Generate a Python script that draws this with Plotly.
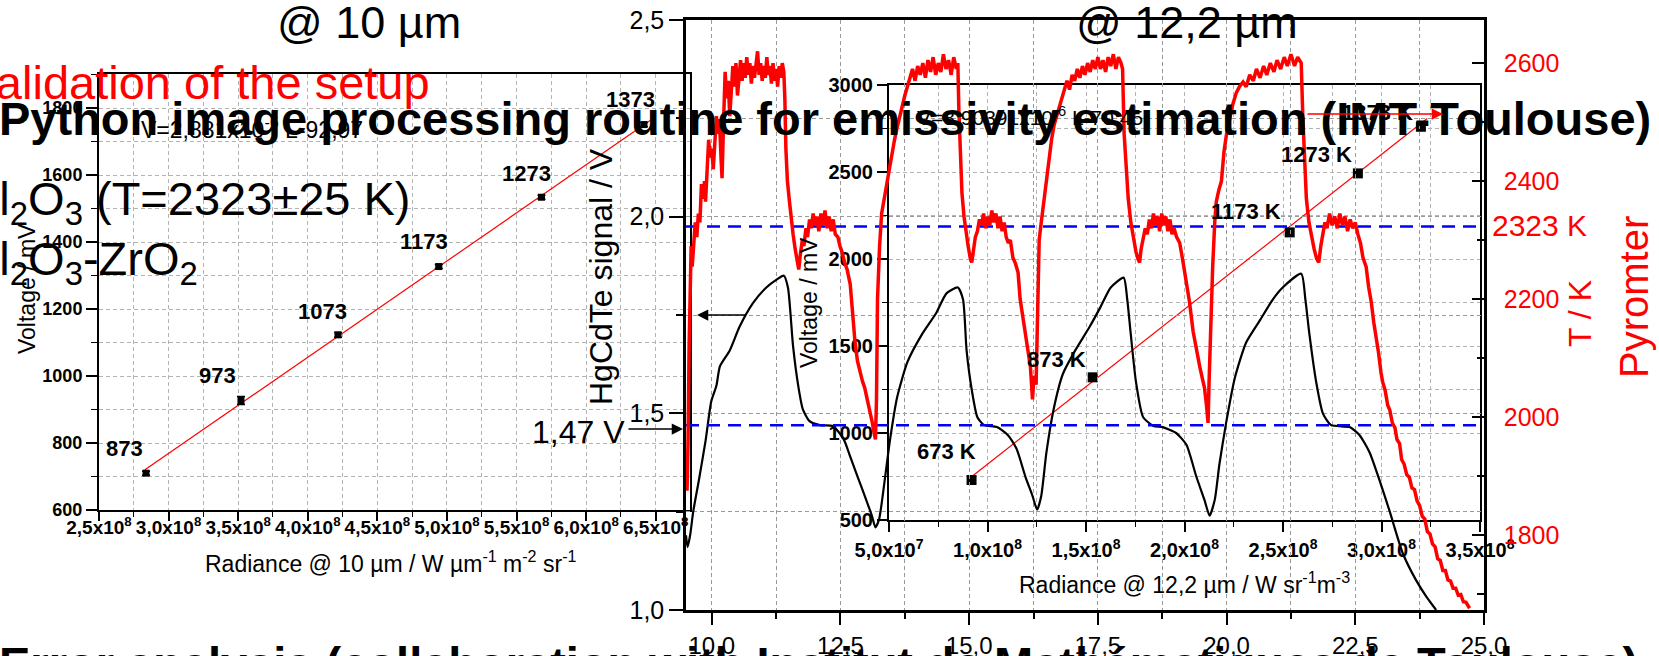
import plotly.graph_objects as go

W, H = 1659, 656
FONT = "Liberation Sans, Arial, sans-serif"

# ---------------- Left inset : calibration @ 10 µm ----------------
cal10_labels = ["873", "973", "1073", "1173", "1273", "1373"]
cal10_radiance = [2.838e8, 3.52e8, 4.217e8, 4.941e8, 5.679e8, 6.415e8]
cal10_voltage = [710, 927, 1123, 1327, 1534, 1751]
cal10_error = [6, 12, 7, 6, 6, 6]
fit10_radiance = [2.83e8, 6.47e8]
fit10_voltage = [720, 1766]
inset10_xticks = [2.5e8, 3.0e8, 3.5e8, 4.0e8, 4.5e8, 5.0e8, 5.5e8, 6.0e8, 6.5e8]
inset10_xticktext = ["2,5x10<sup>8</sup>", "3,0x10<sup>8</sup>", "3,5x10<sup>8</sup>",
                     "4,0x10<sup>8</sup>", "4,5x10<sup>8</sup>", "5,0x10<sup>8</sup>",
                     "5,5x10<sup>8</sup>", "6,0x10<sup>8</sup>", "6,5x10<sup>8</sup>"]
inset10_xminor = [2.75e8, 3.25e8, 3.75e8, 4.25e8, 4.75e8, 5.25e8, 5.75e8, 6.25e8]
inset10_yticks = [600, 800, 1000, 1200, 1400, 1600, 1800]
inset10_yminor = [700, 900, 1100, 1300, 1500, 1700, 1900]

# ---------------- Right inset : calibration @ 12,2 µm ----------------
cal12_labels = ["673 K", "873 K", "1173 K", "1273 K", "1373 K"]
cal12_radiance = [0.919e8, 1.534e8, 2.534e8, 2.88e8, 3.2e8]
cal12_voltage = [730, 1320, 2153, 2492, 2760]
fit12_radiance = [0.919e8, 3.232e8]
fit12_voltage = [749, 2808]
inset12_xticks = [0.5e8, 1.0e8, 1.5e8, 2.0e8, 2.5e8, 3.0e8, 3.5e8]
inset12_xticktext = ["5,0x10<sup>7</sup>", "1,0x10<sup>8</sup>", "1,5x10<sup>8</sup>",
                     "2,0x10<sup>8</sup>", "2,5x10<sup>8</sup>", "3,0x10<sup>8</sup>",
                     "3,5x10<sup>8</sup>"]
inset12_xminor = [0.75e8, 1.25e8, 1.75e8, 2.25e8, 2.75e8, 3.25e8]
inset12_yticks = [500, 1000, 1500, 2000, 2500, 3000]
inset12_yminor = [750, 1250, 1750, 2250, 2750]

# ---------------- Main : time traces ----------------
main_xticks = [10, 12.5, 15, 17.5, 20, 22.5, 25]
main_xticktext = ["10,0", "12,5", "15,0", "17,5", "20,0", "22,5", "25,0"]
main_xminor = [11.25, 13.75, 16.25, 18.75, 21.25, 23.75]
main_yticks = [1.0, 1.5, 2.0, 2.5]
main_yticktext = ["1,0", "1,5", "2,0", "2,5"]
main_yminor = [1.25, 1.75, 2.25]
pyro_ticks = [1800, 2000, 2200, 2400, 2600]
pyro_minor = [1700, 1900, 2100, 2300, 2500]
ref_voltage = 1.47
ref_temperature = 2323

# HgCdTe signal (time, V)
signal_samples = [
    (9.50, 1.19), (9.53, 1.16), (9.58, 1.19), (9.64, 1.25), (9.75, 1.33), (9.88, 1.43),
    (9.99, 1.53), (10.09, 1.57), (10.16, 1.62), (10.35, 1.66), (10.54, 1.72), (10.80, 1.78),
    (11.06, 1.82), (11.26, 1.84), (11.40, 1.85), (11.48, 1.82), (11.58, 1.67), (11.68, 1.57),
    (11.77, 1.51), (11.90, 1.48), (12.10, 1.47), (12.35, 1.468), (12.56, 1.435), (12.69, 1.39),
    (12.83, 1.34), (13.00, 1.28), (13.11, 1.24), (13.18, 1.21), (13.25, 1.23), (13.35, 1.32),
    (13.46, 1.43), (13.60, 1.54), (13.80, 1.63), (14.08, 1.70), (14.36, 1.755), (14.56, 1.805),
    (14.78, 1.82), (14.88, 1.79), (14.95, 1.66), (15.05, 1.56), (15.16, 1.49), (15.29, 1.47),
    (15.54, 1.465), (15.75, 1.445), (15.92, 1.41), (16.09, 1.34), (16.23, 1.29), (16.32, 1.255),
    (16.40, 1.29), (16.50, 1.40), (16.64, 1.51), (16.82, 1.60), (17.06, 1.66), (17.34, 1.72),
    (17.55, 1.77), (17.75, 1.82), (18.00, 1.845), (18.07, 1.79), (18.14, 1.70), (18.24, 1.58),
    (18.38, 1.49), (18.58, 1.468), (18.76, 1.465), (19.02, 1.45), (19.22, 1.42), (19.41, 1.34),
    (19.57, 1.28), (19.67, 1.24), (19.77, 1.28), (19.86, 1.37), (19.99, 1.475), (20.16, 1.59),
    (20.38, 1.68), (20.64, 1.735), (20.90, 1.79), (21.09, 1.82), (21.45, 1.855), (21.53, 1.79),
    (21.61, 1.70), (21.74, 1.58), (21.87, 1.50), (22.03, 1.47), (22.39, 1.465), (22.58, 1.445),
    (22.78, 1.40), (22.97, 1.33), (23.17, 1.25), (23.42, 1.145), (23.68, 1.076), (23.88, 1.034),
    (24.07, 1.00),
]
signal_t = [p[0] for p in signal_samples]
signal_v = [p[1] for p in signal_samples]

# Pyrometer temperature (time, K)
pyro_samples = [
    (9.52, 1875), (9.54, 1960), (9.56, 2120), (9.58, 2230), (9.60, 2290), (9.62, 2255),
    (9.65, 2300), (9.68, 2330), (9.71, 2305), (9.74, 2345), (9.77, 2330), (9.80, 2395),
    (9.83, 2370), (9.86, 2400), (9.88, 2365), (9.91, 2430), (9.94, 2470), (9.97, 2440),
    (10.00, 2455), (10.03, 2420), (10.06, 2470), (10.09, 2510), (10.12, 2480), (10.15, 2505),
    (10.18, 2440), (10.20, 2405), (10.23, 2500), (10.26, 2585), (10.29, 2540), (10.32, 2570),
    (10.35, 2510), (10.38, 2560), (10.41, 2595), (10.44, 2560), (10.47, 2600), (10.50, 2545),
    (10.53, 2580), (10.56, 2605), (10.59, 2570), (10.62, 2600), (10.65, 2575), (10.68, 2610),
    (10.71, 2580), (10.74, 2600), (10.77, 2565), (10.80, 2595), (10.83, 2575), (10.86, 2605),
    (10.89, 2620), (10.92, 2580), (10.95, 2600), (10.98, 2570), (11.01, 2595), (11.04, 2575),
    (11.07, 2610), (11.10, 2580), (11.13, 2595), (11.16, 2565), (11.19, 2600), (11.22, 2570),
    (11.25, 2590), (11.28, 2560), (11.31, 2595), (11.34, 2575), (11.37, 2600), (11.40, 2585),
    (11.42, 2540), (11.44, 2455), (11.47, 2400), (11.51, 2365), (11.55, 2330), (11.58, 2310),
    (11.62, 2285), (11.66, 2260), (11.69, 2250), (11.72, 2275), (11.76, 2300), (11.79, 2290),
    (11.83, 2320), (11.86, 2305), (11.90, 2335), (11.93, 2320), (11.97, 2345), (12.00, 2325),
    (12.04, 2340), (12.08, 2315), (12.12, 2345), (12.16, 2325), (12.20, 2350), (12.24, 2320),
    (12.28, 2340), (12.32, 2315), (12.36, 2335), (12.40, 2310), (12.45, 2305), (12.49, 2290),
    (12.53, 2280), (12.58, 2262), (12.63, 2250), (12.69, 2225), (12.74, 2170), (12.78, 2130),
    (12.83, 2095), (12.88, 2075), (12.93, 2060), (12.97, 2050), (13.01, 2035), (13.05, 2020),
    (13.09, 2005), (13.12, 1990), (13.15, 1975), (13.18, 1962), (13.20, 2030), (13.22, 2200),
    (13.26, 2290), (13.30, 2345), (13.34, 2365), (13.38, 2385), (13.42, 2410), (13.46, 2425),
    (13.50, 2445), (13.55, 2470), (13.60, 2490), (13.65, 2510), (13.70, 2525), (13.75, 2545),
    (13.80, 2560), (13.85, 2575), (13.90, 2590), (13.95, 2570), (14.00, 2595), (14.05, 2580),
    (14.10, 2600), (14.15, 2575), (14.20, 2605), (14.25, 2585), (14.30, 2610), (14.35, 2580),
    (14.40, 2600), (14.45, 2585), (14.50, 2615), (14.55, 2590), (14.60, 2605), (14.65, 2580),
    (14.70, 2610), (14.75, 2590), (14.78, 2600), (14.80, 2520), (14.83, 2440), (14.86, 2380),
    (14.90, 2340), (14.94, 2310), (14.98, 2290), (15.02, 2270), (15.05, 2262), (15.08, 2280),
    (15.12, 2305), (15.16, 2315), (15.20, 2335), (15.24, 2325), (15.28, 2345), (15.32, 2320),
    (15.36, 2340), (15.40, 2325), (15.44, 2350), (15.48, 2330), (15.52, 2345), (15.56, 2320),
    (15.60, 2340), (15.64, 2315), (15.68, 2330), (15.72, 2305), (15.76, 2295), (15.80, 2300),
    (15.85, 2270), (15.90, 2260), (15.95, 2245), (15.99, 2200), (16.04, 2170), (16.09, 2140),
    (16.14, 2110), (16.19, 2085), (16.23, 2030), (16.26, 2070), (16.30, 2055), (16.33, 2200),
    (16.36, 2300), (16.40, 2330), (16.44, 2360), (16.48, 2380), (16.52, 2420), (16.56, 2450),
    (16.60, 2470), (16.65, 2495), (16.70, 2510), (16.75, 2530), (16.80, 2545), (16.85, 2560),
    (16.90, 2570), (16.95, 2555), (17.00, 2580), (17.05, 2570), (17.10, 2590), (17.15, 2575),
    (17.20, 2595), (17.25, 2580), (17.30, 2600), (17.35, 2585), (17.40, 2605), (17.45, 2590),
    (17.50, 2610), (17.55, 2590), (17.60, 2605), (17.65, 2585), (17.70, 2610), (17.75, 2595),
    (17.80, 2615), (17.85, 2590), (17.90, 2610), (17.95, 2600), (17.98, 2590), (18.01, 2480),
    (18.05, 2420), (18.09, 2370), (18.14, 2330), (18.19, 2300), (18.24, 2280), (18.28, 2268),
    (18.31, 2262), (18.34, 2285), (18.38, 2300), (18.42, 2320), (18.46, 2310), (18.50, 2335),
    (18.54, 2320), (18.58, 2345), (18.62, 2325), (18.66, 2340), (18.70, 2315), (18.74, 2345),
    (18.78, 2325), (18.82, 2340), (18.86, 2315), (18.90, 2335), (18.94, 2310), (18.98, 2320),
    (19.03, 2305), (19.09, 2295), (19.15, 2265), (19.22, 2230), (19.28, 2195), (19.35, 2145),
    (19.42, 2110), (19.48, 2085), (19.53, 2065), (19.57, 2050), (19.61, 2020), (19.64, 1990),
    (19.66, 2060), (19.68, 2130), (19.70, 2200), (19.73, 2255), (19.77, 2330), (19.80, 2365),
    (19.85, 2385), (19.90, 2400), (19.95, 2450), (20.00, 2480), (20.06, 2505), (20.12, 2530),
    (20.19, 2550), (20.25, 2560), (20.32, 2568), (20.38, 2560), (20.45, 2580), (20.52, 2570),
    (20.58, 2590), (20.65, 2575), (20.72, 2595), (20.78, 2580), (20.85, 2600), (20.92, 2585),
    (20.98, 2605), (21.05, 2590), (21.12, 2610), (21.18, 2595), (21.25, 2615), (21.32, 2595),
    (21.38, 2610), (21.45, 2600), (21.48, 2510), (21.52, 2430), (21.55, 2370), (21.60, 2330),
    (21.65, 2305), (21.70, 2285), (21.75, 2268), (21.79, 2262), (21.83, 2290), (21.87, 2315),
    (21.91, 2330), (21.95, 2320), (22.00, 2345), (22.05, 2325), (22.10, 2340), (22.15, 2320),
    (22.20, 2345), (22.25, 2325), (22.30, 2340), (22.35, 2315), (22.40, 2335), (22.45, 2320),
    (22.50, 2330), (22.55, 2310), (22.60, 2295), (22.65, 2270), (22.71, 2255), (22.76, 2220),
    (22.81, 2195), (22.86, 2160), (22.90, 2140), (22.95, 2110), (23.00, 2075), (23.03, 2060),
    (23.08, 2045), (23.13, 2020), (23.17, 2012), (23.22, 1990), (23.27, 1982), (23.31, 1962),
    (23.36, 1955), (23.40, 1928), (23.45, 1920), (23.50, 1902), (23.55, 1898), (23.60, 1880),
    (23.65, 1877), (23.70, 1858), (23.75, 1850), (23.80, 1832), (23.85, 1827), (23.90, 1806),
    (23.95, 1802), (24.00, 1785), (24.05, 1780), (24.10, 1760), (24.15, 1757), (24.20, 1740),
    (24.25, 1740), (24.30, 1724), (24.35, 1722), (24.40, 1710), (24.45, 1710), (24.50, 1698),
    (24.55, 1699), (24.60, 1687), (24.65, 1686), (24.72, 1676),
]
pyro_t = [p[0] for p in pyro_samples]
pyro_T = [p[1] for p in pyro_samples]

# ---------------- layout geometry (pixels) ----------------
def fx(x):
    return x / W

def fy(y):
    return 1 - y / H

main_xrange = [9.5, 25.0]

GRID = "#9a9a9a"
GRID_IN = "#b4b4b4"
DASH = "4px,3px"

fig = go.Figure()

# ---- left inset traces
fig.add_trace(go.Scatter(x=fit10_radiance, y=fit10_voltage, mode="lines",
                         line=dict(color="red", width=1.2), xaxis="x", yaxis="y",
                         showlegend=False, hoverinfo="skip"))
fig.add_trace(go.Scatter(x=cal10_radiance, y=cal10_voltage, mode="markers",
                         marker=dict(symbol="square", size=7, color="black"),
                         error_y=dict(type="data", array=cal10_error, color="black",
                                      thickness=1.5, width=4),
                         xaxis="x", yaxis="y", showlegend=False))

# ---- right inset traces
fig.add_trace(go.Scatter(x=fit12_radiance, y=fit12_voltage, mode="lines",
                         line=dict(color="red", width=1.2), xaxis="x2", yaxis="y2",
                         showlegend=False, hoverinfo="skip"))
fig.add_trace(go.Scatter(x=cal12_radiance, y=cal12_voltage, mode="markers",
                         marker=dict(symbol="square", size=10, color="black"),
                         xaxis="x2", yaxis="y2", showlegend=False))

# ---- main traces
fig.add_trace(go.Scatter(x=signal_t, y=signal_v, mode="lines",
                         line=dict(color="black", width=2.2, shape="spline", smoothing=0.6),
                         xaxis="x3", yaxis="y3", showlegend=False))
fig.add_trace(go.Scatter(x=main_xrange, y=[ref_voltage, ref_voltage], mode="lines",
                         line=dict(color="#0000ff", width=2.5, dash="13px,8px"),
                         xaxis="x3", yaxis="y3", showlegend=False))
fig.add_trace(go.Scatter(x=main_xrange, y=[ref_temperature, ref_temperature], mode="lines",
                         line=dict(color="#0000ff", width=2.5, dash="13px,8px"),
                         xaxis="x3", yaxis="y4", showlegend=False))
fig.add_trace(go.Scatter(x=pyro_t, y=pyro_T, mode="lines",
                         line=dict(color="#ff0000", width=3.5),
                         xaxis="x3", yaxis="y4", showlegend=False))

# ---------------- axes ----------------
def axis_common(**kw):
    d = dict(showline=True, linecolor="black", zeroline=False, tickcolor="black",
             automargin=False, tickangle=0)
    d.update(kw)
    return d

inset10_tickfont = dict(family=FONT, size=18, color="black", weight="bold")
inset12_tickfont = dict(family=FONT, size=20, color="black", weight="bold")

layout_axes = dict(
    xaxis=axis_common(domain=[fx(99), fx(690)], range=[2.5e8, 6.746e8], anchor="y",
                      tickmode="array", tickvals=inset10_xticks, ticktext=inset10_xticktext,
                      ticks="outside", ticklen=9, tickwidth=1.5, linewidth=2, mirror=True,
                      showgrid=True, gridcolor=GRID_IN, griddash=DASH, gridwidth=1,
                      minor=dict(tickmode="array", tickvals=inset10_xminor, ticks="outside",
                                 ticklen=5, tickwidth=1.2, tickcolor="black", showgrid=True,
                                 gridcolor=GRID_IN, griddash=DASH, gridwidth=1),
                      tickfont=dict(family=FONT, size=19, color="black", weight="bold"),
                      ticklabelstandoff=-10),
    yaxis=axis_common(domain=[fy(510), fy(74)], range=[600, 1902], anchor="x",
                      tickmode="array", tickvals=inset10_yticks,
                      ticks="outside", ticklen=11, tickwidth=1.5, linewidth=2, mirror=True,
                      showgrid=True, gridcolor=GRID_IN, griddash=DASH, gridwidth=1,
                      minor=dict(tickmode="array", tickvals=inset10_yminor, ticks="outside",
                                 ticklen=6, tickwidth=1.2, tickcolor="black", showgrid=True,
                                 gridcolor=GRID_IN, griddash=DASH, gridwidth=1),
                      tickfont=inset10_tickfont),
    xaxis2=axis_common(domain=[fx(889), fx(1480)], range=[0.5e8, 3.5e8], anchor="y2",
                       tickmode="array", tickvals=inset12_xticks, ticktext=inset12_xticktext,
                       ticks="outside", ticklen=10, tickwidth=1.5, linewidth=2, mirror=True,
                       showgrid=True, gridcolor=GRID_IN, griddash=DASH, gridwidth=1,
                       minor=dict(tickmode="array", tickvals=inset12_xminor, ticks="outside",
                                  ticklen=5, tickwidth=1.2, tickcolor="black", showgrid=True,
                                  gridcolor=GRID_IN, griddash=DASH, gridwidth=1),
                       tickfont=inset12_tickfont, ticklabelstandoff=1),
    yaxis2=axis_common(domain=[fy(520), fy(85)], range=[500, 3000], anchor="x2",
                       tickmode="array", tickvals=inset12_yticks,
                       ticks="outside", ticklen=10, tickwidth=1.5, linewidth=2, mirror=True,
                       showgrid=True, gridcolor=GRID_IN, griddash=DASH, gridwidth=1,
                       minor=dict(tickmode="array", tickvals=inset12_yminor, ticks="outside",
                                  ticklen=5, tickwidth=1.2, tickcolor="black", showgrid=True,
                                  gridcolor=GRID_IN, griddash=DASH, gridwidth=1),
                       tickfont=inset12_tickfont),
    xaxis3=axis_common(domain=[fx(686), fx(1484)], range=main_xrange, anchor="y3",
                       tickmode="array", tickvals=main_xticks, ticktext=main_xticktext,
                       ticks="outside", ticklen=12, tickwidth=2, linewidth=2.5, mirror=True,
                       showgrid=True, gridcolor=GRID, griddash=DASH, gridwidth=1,
                       minor=dict(tickmode="array", tickvals=main_xminor, ticks="outside",
                                  ticklen=6, tickwidth=1.5, tickcolor="black", showgrid=True,
                                  gridcolor=GRID, griddash=DASH, gridwidth=1),
                       tickfont=dict(family=FONT, size=24, color="black"),
                       ticklabelstandoff=0),
    yaxis3=axis_common(domain=[fy(610), fy(20)], range=[1.0, 2.5], anchor="x3",
                       tickmode="array", tickvals=main_yticks, ticktext=main_yticktext,
                       ticks="outside", ticklen=14, tickwidth=2, linewidth=2.5,
                       showgrid=True, gridcolor=GRID, griddash=DASH, gridwidth=1,
                       minor=dict(tickmode="array", tickvals=main_yminor, ticks="outside",
                                  ticklen=7, tickwidth=1.5, tickcolor="black", showgrid=True,
                                  gridcolor=GRID, griddash=DASH, gridwidth=1),
                       tickfont=dict(family=FONT, size=25, color="black")),
    yaxis4=axis_common(range=[1673, 2673], overlaying="y3", anchor="x3", side="right",
                       tickmode="array", tickvals=pyro_ticks,
                       ticks="inside", ticklen=12, tickwidth=2, linewidth=2.5,
                       showgrid=False,
                       minor=dict(tickmode="array", tickvals=pyro_minor, ticks="inside",
                                  ticklen=7, tickwidth=1.5, tickcolor="black", showgrid=False),
                       tickfont=dict(family=FONT, size=25, color="#ff0000"),
                       ticklabelstandoff=12),
)

# ---------------- annotations ----------------
def note(text, x, y, size, color="black", xanchor="center", yanchor="middle", angle=0):
    return dict(text=text, x=fx(x), y=fy(y), xref="paper", yref="paper",
                xanchor=xanchor, yanchor=yanchor, textangle=angle, showarrow=False,
                font=dict(family=FONT, size=size, color=color))

def arrow(xh, yh, dx, color):
    return dict(text="", x=fx(xh), y=fy(yh), xref="paper", yref="paper",
                ax=dx, ay=0, axref="pixel", ayref="pixel", showarrow=True,
                arrowhead=2, arrowsize=1.5, arrowwidth=1.5, arrowcolor=color)

annotations = []

# left inset point labels
label10_shift = [(-22, 25), (-23, 25), (-15, 23), (-15, 25), (-15, 24), (-13, 25)]
for lab, xv, yv, (dx, dy) in zip(cal10_labels, cal10_radiance, cal10_voltage, label10_shift):
    annotations.append(dict(text="<b>%s</b>" % lab, x=xv, y=yv, xref="x", yref="y",
                            xshift=dx, yshift=dy, showarrow=False,
                            font=dict(family=FONT, size=22, color="black")))

# right inset point labels
label12_shift = [(-25, 28), (-36, 18), (-44, 21), (-41, 19), (-43, 14)]
for lab, xv, yv, (dx, dy) in zip(cal12_labels, cal12_radiance, cal12_voltage, label12_shift):
    annotations.append(dict(text="<b>%s</b>" % lab, x=xv, y=yv, xref="x2", yref="y2",
                            xshift=dx, yshift=dy, showarrow=False,
                            font=dict(family=FONT, size=22, color="black")))

annotations += [
    note("V=2,881x10<sup>-6</sup> L-92,97", 252, 128, 23),
    note("V=8,90391x10<sup>-6</sup> L-70,45", 1030, 116, 21),
    # axis titles
    note("Radiance @ 10 µm / W µm<sup>-1</sup> m<sup>-2</sup> sr<sup>-1</sup>", 390, 562, 23),
    note("Radiance @ 12,2 µm / W sr<sup>-1</sup>m<sup>-3</sup>", 1184, 583, 23),
    note("Voltage / mV", 27, 289, 23, angle=-90),
    note("Voltage / mV", 809, 303, 23, angle=-90),
    note("HgCdTe signal / V", 601, 277, 32, angle=-90),
    note("T / K", 1580, 314, 32, color="#ff0000", angle=-90),
    note("Pyromter", 1634, 297, 40, color="#ff0000", angle=-90),
    note("2323 K", 1490, 225, 30, color="#ff0000", xanchor="left"),
    note("1,47 V", 627, 432, 32, xanchor="right"),
    # titles
    note("@ 10 µm", 369, 23, 45),
    note("@ 12,2 µm", 1187, 23, 45),
    note("Validation of the setup", -34, 83, 47, color="#ff0000", xanchor="left"),
    note("Al<sub>2</sub>O<sub>3</sub> (T=2323±25 K)", -34, 202, 47, xanchor="left"),
    note("Al<sub>2</sub>O<sub>3</sub>-ZrO<sub>2</sub>", -34, 262, 47, xanchor="left"),
    note("<b>Python image processing routine for emissivity estimation (IMT-Toulouse)</b>",
         -3, 118, 47, xanchor="left"),
    note("<b>Error analysis (collaboration with Institut de Mathématiques de Toulouse)</b>",
         -3, 663, 47, xanchor="left"),
    # arrows
    arrow(697, 315, 50, "black"),
    arrow(1443, 114, -137, "#ff0000"),
    arrow(683, 429, -56, "black"),
]

fig.update_layout(
    width=W, height=H,
    margin=dict(l=0, r=0, t=0, b=0, autoexpand=False),
    paper_bgcolor="white", plot_bgcolor="rgba(0,0,0,0)",
    font=dict(family=FONT, color="black"),
    showlegend=False,
    annotations=annotations,
    **layout_axes,
)

fig.write_html("out.html", config={"displayModeBar": False},
               post_script="document.body.style.margin='0';document.body.style.overflow='hidden';")
